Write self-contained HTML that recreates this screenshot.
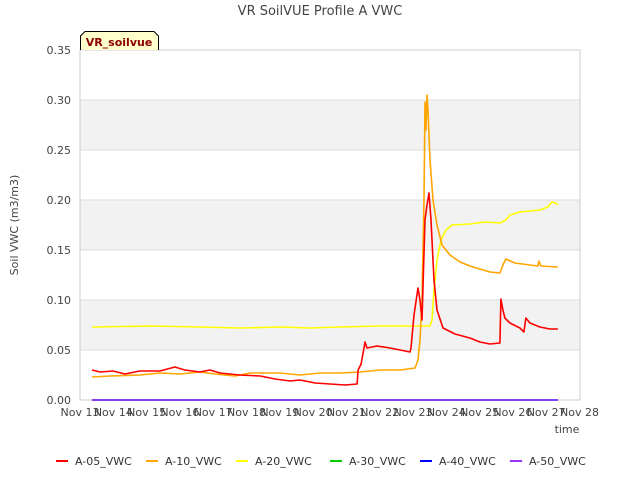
<!DOCTYPE html>
<html><head><meta charset="utf-8"><style>
body{margin:0;background:#fff;font-family:"Liberation Sans","DejaVu Sans",sans-serif;}
svg text{font-family:"DejaVu Sans","Liberation Sans",sans-serif;}
</style></head><body>
<svg id="chart" width="640" height="480" viewBox="0 0 640 480" xmlns="http://www.w3.org/2000/svg">
<rect width="640" height="480" fill="#fff"/>
<text x="320" y="15" text-anchor="middle" font-size="13" fill="#444">VR SoilVUE Profile A VWC</text>
<g id="grid"></g>
<g id="axes"></g>
<g id="series"></g>
<g>
<path d="M80.5,50 L80.5,36 L85,31.5 L154,31.5 L158.5,36 L158.5,50" fill="#ffffcc" stroke="#000" stroke-width="1"/>
<text x="119" y="46" text-anchor="middle" font-size="11" font-weight="bold" fill="#8b0000">VR_soilvue</text>
</g>
<text transform="translate(18,225) rotate(-90)" text-anchor="middle" font-size="11" fill="#444">Soil VWC (m3/m3)</text>
<text x="567" y="433" text-anchor="middle" font-size="11" fill="#444">time</text>
<g id="legend"></g>
</svg>
<script>
const xTickLabels=["Nov 13","Nov 14","Nov 15","Nov 16","Nov 17","Nov 18","Nov 19","Nov 20","Nov 21","Nov 22","Nov 23","Nov 24","Nov 25","Nov 26","Nov 27","Nov 28"];
const yTicks=[0,0.05,0.10,0.15,0.20,0.25,0.30,0.35];
const seriesNames=["A-05_VWC","A-10_VWC","A-20_VWC","A-30_VWC","A-40_VWC","A-50_VWC"];
const seriesColors=["#ff0000","#ffa500","#ffff00","#00cc00","#0000ff","#9933ff"];
// days since Nov 13 00:00
const t05=[0.36,0.60,0.99,1.35,1.80,2.40,2.85,3.15,3.60,3.90,4.20,4.80,5.41,5.86,6.31,6.61,7.06,7.51,7.96,8.32,8.35,8.44,8.53,8.56,8.62,8.92,9.31,9.61,9.91,9.94,10.03,10.15,10.21,10.27,10.36,10.42,10.48,10.54,10.63,10.72,10.90,11.26,11.71,12.01,12.31,12.61,12.64,12.70,12.76,12.91,13.21,13.33,13.39,13.51,13.81,14.11,14.35];
const v05=[0.030,0.028,0.029,0.026,0.029,0.029,0.033,0.030,0.028,0.030,0.027,0.025,0.024,0.021,0.019,0.020,0.017,0.016,0.015,0.016,0.030,0.036,0.052,0.058,0.052,0.054,0.052,0.050,0.048,0.052,0.085,0.112,0.100,0.080,0.180,0.195,0.207,0.180,0.120,0.090,0.072,0.066,0.062,0.058,0.056,0.057,0.101,0.090,0.082,0.077,0.072,0.068,0.082,0.077,0.073,0.071,0.071];
const t10=[0.36,0.90,1.80,2.40,3.00,3.60,4.05,4.65,5.11,6.01,6.61,7.21,7.81,8.41,9.01,9.61,10.06,10.15,10.21,10.27,10.33,10.36,10.39,10.42,10.45,10.51,10.60,10.72,10.87,11.11,11.41,11.71,12.01,12.31,12.61,12.70,12.79,13.06,13.51,13.75,13.78,13.84,14.35];
const v10=[0.023,0.024,0.025,0.027,0.026,0.028,0.026,0.024,0.027,0.027,0.025,0.027,0.027,0.028,0.030,0.030,0.032,0.040,0.060,0.100,0.200,0.298,0.270,0.305,0.290,0.240,0.200,0.175,0.155,0.145,0.138,0.134,0.131,0.128,0.127,0.135,0.141,0.137,0.135,0.134,0.139,0.134,0.133];
const t20=[0.36,2.10,3.60,4.80,6.01,6.91,7.81,9.01,10.21,10.45,10.51,10.57,10.63,10.72,10.84,10.99,11.17,11.71,12.16,12.61,12.79,12.91,13.21,13.81,14.05,14.17,14.29,14.35];
const v20=[0.073,0.074,0.073,0.072,0.073,0.072,0.073,0.074,0.074,0.074,0.074,0.080,0.110,0.140,0.160,0.170,0.175,0.176,0.178,0.177,0.180,0.185,0.188,0.190,0.193,0.198,0.197,0.195];
const t30=[0.36,14.35], v30=[0,0];
const t40=[0.36,14.35], v40=[0,0];
const t50=[0.36,14.35], v50=[0,0];

const NS="http://www.w3.org/2000/svg";
const L=80,R=580,T=50,B=400,dayPx=33.3,yMax=0.35;
const xs=d=>L+d*dayPx;
const ys=v=>B-(v/yMax)*(B-T);
function mk(tag,attrs,parent){const e=document.createElementNS(NS,tag);for(const k in attrs)e.setAttribute(k,attrs[k]);parent.appendChild(e);return e;}
const grid=document.getElementById('grid'),axes=document.getElementById('axes'),ser=document.getElementById('series'),leg=document.getElementById('legend');
for(let i=0;i<yTicks.length-1;i++){
  if(i%2===1){const r=mk('rect',{x:L,y:ys(yTicks[i+1]),width:R-L,height:ys(yTicks[i])-ys(yTicks[i+1]),fill:'#f2f2f2'},grid);
  
  }
}
yTicks.forEach(v=>{
  const l=mk('line',{x1:L,x2:R,y1:ys(v),y2:ys(v),stroke:'#dddddd','stroke-width':1},grid);
  
  
  const tx=mk('text',{x:71,y:ys(v)+4,'text-anchor':'end','font-size':11,fill:'#444'},axes);
  tx.textContent=v.toFixed(2);
  
  
});
const frame=mk('rect',{x:L,y:T,width:R-L,height:B-T,fill:'none',stroke:'#cccccc'},axes);


xTickLabels.forEach((s,i)=>{
  const tx=mk('text',{x:xs(i),y:416,'text-anchor':'middle','font-size':11,fill:'#444'},axes);
  tx.textContent=s;
  
  
});
const allT=[t05,t10,t20,t30,t40,t50],allV=[v05,v10,v20,v30,v40,v50];
const order=[3,4,5,2,1,0];
order.forEach(k=>{
  const pts=allT[k].map((t,i)=>xs(t).toFixed(1)+','+ys(allV[k][i]).toFixed(1)).join(' ');
  const p=mk('polyline',{points:pts,fill:'none',stroke:seriesColors[k],'stroke-width':1.6,'stroke-linejoin':'round'},ser);
  
  
});
const legX=[56,146,236,330,420,510];
seriesNames.forEach((n,i)=>{
  const g=mk('g',{},leg);
  
  
  mk('line',{x1:legX[i],x2:legX[i]+12,y1:461,y2:461,stroke:seriesColors[i],'stroke-width':2},g);
  const tx=mk('text',{x:legX[i]+19,y:465,'font-size':11,fill:'#333'},g);
  tx.textContent=n;
});
</script>
</body></html>
